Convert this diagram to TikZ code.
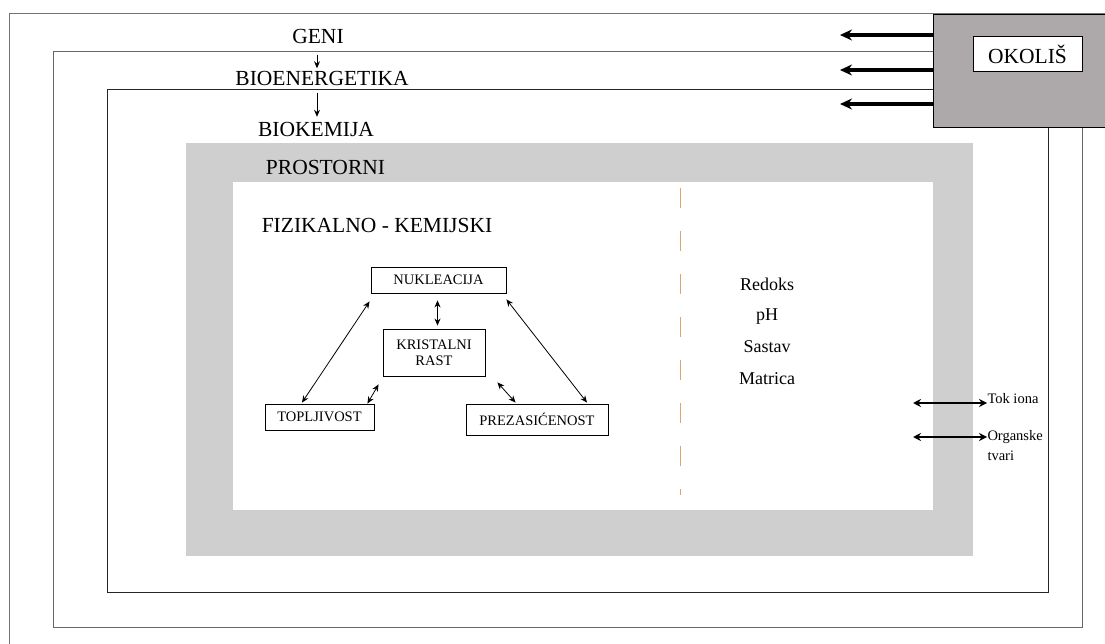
\documentclass[tikz,border=0pt]{standalone}
\usepackage{fontspec}
\setmainfont{Liberation Serif}
\usetikzlibrary{arrows.meta}
\definecolor{bandgray}{RGB}{208,207,208}
\definecolor{envgray}{RGB}{173,169,170}
\definecolor{dashtan}{RGB}{222,165,115}
\tikzset{
  level/.style={inner sep=0pt,font=\fontsize{21.5}{25}\selectfont},
  factor/.style={inner sep=0pt,font=\fontsize{18}{21}\selectfont},
  flux/.style={inner sep=0pt,font=\fontsize{14.5}{20}\selectfont,align=left},
  stage/.style={draw,line width=0.9pt,inner sep=0pt,align=center,font=\fontsize{14.5}{16}\selectfont},
  thin/.style={line width=0.8pt,{Stealth[length=7pt,width=6pt]}-{Stealth[length=7pt,width=6pt]}},
  push/.style={line width=3.5pt,-{Stealth[length=12pt,width=11pt]}},
  swap/.style={line width=2.5pt,{Stealth[length=8pt,width=8pt]}-{Stealth[length=8pt,width=8pt]}},
}
\begin{document}
\begin{tikzpicture}[x=1pt,y=-1pt,line width=1pt]
\useasboundingbox[fill=white] (0,0) rectangle (1105,644);
% nested levels
\draw[black!55] (9,644) -- (9,14) -- (1105,14);
\draw[black!60] (53,52) rectangle (1082,627);
\draw[black!85] (107,90) rectangle (1048,592);
\fill[bandgray] (186,143) rectangle (973,556);
\fill[white] (233,182) rectangle (933,510);
\draw[dashtan,line width=1pt,dash pattern=on 20pt off 23pt] (680,188) -- (680,495);
% environment
\node[draw,fill=envgray,minimum width=175,minimum height=113,anchor=north west] (env) at (933,14) {};
\node[draw,fill=white,minimum width=109,minimum height=35,level] (okolis) at (1027.5,54.5) {OKOLIŠ};
\coordinate (e1) at (840,35);
\coordinate (e2) at (840,70);
\coordinate (e3) at (840,104);
\draw[push] (env.west |- e1) -- (e1);
\draw[push] (env.west |- e2) -- (e2);
\draw[push] (env.west |- e3) -- (e3);
% levels
\node[level] (geni) at (318,36) {GENI};
\node[level] (bioen) at (322,78) {BIOENERGETIKA};
\node[level] (biokem) at (316,129.5) {BIOKEMIJA};
\node[level] (prost) at (325.5,167) {PROSTORNI};
\node[level] (fizkem) at (377,225) {FIZIKALNO - KEMIJSKI};
\draw[-{Stealth[length=7pt,width=6pt]}] ([shift={(-1,11)}]geni.south) -- ([shift={(-1,-2)}]geni.south |- bioen.north);
\draw[-{Stealth[length=7pt,width=6pt]}] ([shift={(-5,7)}]bioen.south) -- ([shift={(-5,-5)}]bioen.south |- biokem.north);
% crystal triangle
\node[stage,minimum width=135,minimum height=26] (nuk) at (438.5,280) {NUKLEACIJA};
\node[stage,minimum width=102,minimum height=47] (rast) at (434,352.5) {KRISTALNI\\RAST};
\node[stage,minimum width=109,minimum height=26] (topl) at (319.5,417) {TOPLJIVOST};
\node[stage,minimum width=142,minimum height=31] (prez) at (537,419.5) {PREZASIĆENOST};
\draw[thin] ([shift={(-1,8)}]nuk.south west) -- ([shift={(-17.5,-1)}]topl.north);
\draw[thin] ([shift={(-1,7)}]nuk.south) -- ([shift={(-1,-3)}]nuk.south |- rast.north);
\draw[thin] ([shift={(-4,8)}]rast.south west) -- ([shift={(-7,0)}]topl.north east);
\draw[thin] ([shift={(12,6)}]rast.south east) -- ([shift={(50,-1)}]prez.north west);
\draw[thin] ([shift={(0,6)}]nuk.south east) -- ([shift={(50,-1)}]prez.north);
% factors
\node[factor] (redoks) at (767,284) {Redoks};
\node[factor] (ph) at (767,317) {pH};
\node[factor] (sastav) at (767,347) {Sastav};
\node[factor] (matrica) at (767,379) {Matrica};
% exchange
\node[flux,anchor=west] (tok) at (987,399) {Tok iona};
\node[flux,anchor=north west] (org) at (987,430) {Organske\\tvari};
\coordinate (t0) at (913,403);
\coordinate (o0) at (913,437);
\draw[swap] (t0) -- (t0 -| tok.west);
\draw[swap] (o0) -- (o0 -| org.west);
\end{tikzpicture}
\end{document}
